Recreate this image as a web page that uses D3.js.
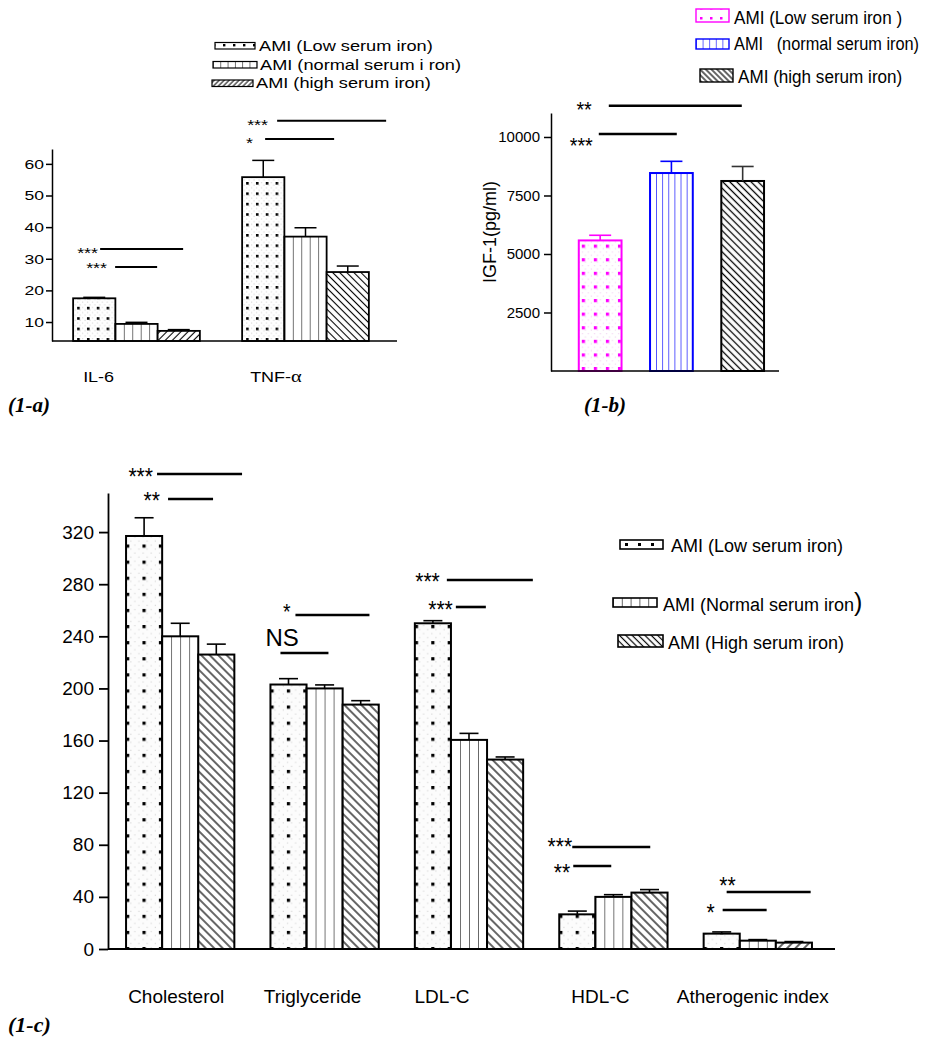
<!DOCTYPE html>
<html>
<head>
<meta charset="utf-8">
<script src="https://cdnjs.cloudflare.com/ajax/libs/d3/7.8.5/d3.min.js"></script>
<style>
  html, body { margin: 0; padding: 0; background: #fff; }
  svg { display: block; }
</style>
</head>
<body>
<svg id="fig" width="926" height="1042"></svg>
<script>
// ---------------- data ----------------
// (1-a) inflammatory markers
const markersA = ["IL-6", "TNF-α"];
const seriesA = ["AMI (Low serum iron)", "AMI (normal serum i ron)", "AMI (high serum iron)"];
const lowA = [17.5, 55.8];
const lowA_se = [0.3, 5.3];
const normalA = [9.4, 37.0];
const normalA_se = [0.5, 2.8];
const highA = [7.2, 25.8];
const highA_se = [0.4, 1.9];
const ticksA = [10, 20, 30, 40, 50, 60];

// (1-b) IGF-1
const seriesB = ["AMI (Low serum iron )", "AMI   (normal serum iron)", "AMI (high serum iron)"];
const igf = [5580, 8460, 8120];
const igf_se = [220, 500, 620];
const ticksB = [2500, 5000, 7500, 10000];

// (1-c) lipid profile
const lipids = ["Cholesterol", "Triglyceride", "LDL-C", "HDL-C", "Atherogenic index"];
const seriesC = ["AMI (Low serum iron)", "AMI (Normal serum iron", "AMI (High serum iron)"];
const lowC = [317, 203, 250, 26.6, 11.8];
const lowC_se = [14, 4.5, 2, 2.5, 1.3];
const normalC = [240, 200, 160.5, 40, 6.4];
const normalC_se = [10, 2.7, 5, 1.7, 0.8];
const highC = [226, 187.6, 145.4, 43.3, 4.9];
const highC_se = [8, 3, 2, 2.3, 0.8];
const ticksC = [0, 40, 80, 120, 160, 200, 240, 280, 320];

// significance brackets: label, level (axis units), offsets from group start
const sigA = [
  { group: "IL-6", label: "***", level: 33.1, from: 27, to: 110, textEnd: 25, dy: 0 },
  { group: "IL-6", label: "***", level: 27.4, from: 42, to: 84, textEnd: 34, dy: -3 },
  { group: "TNF-α", label: "***", level: 73.6, from: 35, to: 144, textEnd: 26, dy: 0 },
  { group: "TNF-α", label: "*", level: 67.9, from: 23, to: 92, textEnd: 11, dy: 0 }
];
const sigB = [
  { label: "**", level: 11338, from: 30, to: 163, textEnd: 13, dy: -1 },
  { label: "***", level: 10128, from: 20, to: 98, textEnd: 14, dy: 6 }
];
const sigC = [
  { group: "Cholesterol", label: "***", level: 364.6, from: 31, to: 116, textEnd: 27, dy: -3 },
  { group: "Cholesterol", label: "**", level: 345.4, from: 42, to: 87, textEnd: 34, dy: -4 },
  { group: "Triglyceride", label: "*", level: 256.4, from: 25, to: 99, textEnd: 20, dy: -9, fs: 22 },
  { group: "Triglyceride", label: "NS", level: 227.2, from: 10, to: 58, textStart: -5, dy: -7 },
  { group: "LDL-C", label: "***", level: 283.2, from: 32, to: 118, textEnd: 25, dy: -4 },
  { group: "LDL-C", label: "***", level: 262.5, from: 41, to: 71, textEnd: 38, dy: -3 },
  { group: "HDL-C", label: "***", level: 78.3, from: 13, to: 91, textEnd: 13, dy: -6 },
  { group: "HDL-C", label: "**", level: 63.7, from: 14, to: 52, textEnd: 11, dy: 1 },
  { group: "Atherogenic index", label: "**", level: 43.7, from: 23, to: 107, textEnd: 32, dy: -12 },
  { group: "Atherogenic index", label: "*", level: 29.9, from: 19, to: 63, textEnd: 11, dy: -3 }
];
const labelShiftC = [-4, -12, -27, -13, -5];

// ---------------- helpers ----------------
const SANS = '"Liberation Sans", Arial, Helvetica, sans-serif';
const SERIF = '"Liberation Serif", "Times New Roman", serif';
const svg = d3.select("#fig");
svg.append("rect").attr("width", 926).attr("height", 1042).attr("fill", "#fff");
const defs = svg.append("defs");
let pid = 0;

function dotsPattern(x0, y0, w, h, size, color, bg, faint) {
  const id = "pat" + (pid++);
  const p = defs.append("pattern").attr("id", id).attr("patternUnits", "userSpaceOnUse")
    .attr("x", x0).attr("y", y0).attr("width", w).attr("height", h);
  p.append("rect").attr("width", w).attr("height", h).attr("fill", bg);
  if (faint) {
    [[w / 2, 0], [0, h / 2], [w / 2, h / 2], [w / 4, h / 4], [3 * w / 4, 3 * h / 4], [w / 4, 3 * h / 4], [3 * w / 4, h / 4]]
      .forEach(([a, b]) => p.append("rect").attr("x", a).attr("y", b).attr("width", 1.2).attr("height", 1.2).attr("fill", faint));
  }
  p.append("rect").attr("x", 0).attr("y", 0).attr("width", size).attr("height", size).attr("fill", color);
  return `url(#${id})`;
}
function vlinePattern(x0, w, color, sw) {
  const id = "pat" + (pid++);
  const p = defs.append("pattern").attr("id", id).attr("patternUnits", "userSpaceOnUse")
    .attr("x", x0).attr("y", 0).attr("width", w).attr("height", 10);
  p.append("rect").attr("width", w).attr("height", 10).attr("fill", "#fff");
  p.append("line").attr("x1", 0).attr("x2", 0).attr("y1", 0).attr("y2", 10)
    .attr("stroke", color).attr("stroke-width", sw);
  return `url(#${id})`;
}
function diagPattern(s, color, sw, forward) {
  const id = "pat" + (pid++);
  const p = defs.append("pattern").attr("id", id).attr("patternUnits", "userSpaceOnUse")
    .attr("width", s).attr("height", s)
    .attr("patternTransform", `rotate(${forward ? 45 : -45})`);
  p.append("rect").attr("width", s).attr("height", s).attr("fill", "#fff");
  p.append("line").attr("x1", s / 2).attr("x2", s / 2).attr("y1", 0).attr("y2", s)
    .attr("stroke", color).attr("stroke-width", sw);
  return `url(#${id})`;
}
function addText(g, x, y, str, o) {
  const t = g.append("text")
    .attr("transform", `translate(${x},${y}) scale(${o.sx || 1},1)`)
    .attr("font-size", o.fs).attr("font-family", o.family || SANS)
    .attr("text-anchor", o.anchor || "start").attr("fill", o.fill || "#000")
    .style("white-space", "pre")
    .text(str);
  if (o.weight) t.attr("font-weight", o.weight);
  if (o.italic) t.attr("font-style", "italic");
  return t;
}
function styleAxis(g, fs, sw, sx) {
  g.selectAll("path.domain").attr("stroke", "#000").attr("stroke-width", sw);
  g.selectAll(".tick line").attr("stroke", "#000").attr("stroke-width", sw);
  g.selectAll(".tick text").attr("fill", "#000").attr("font-size", fs).attr("font-family", SANS);
  if (sx) {
    g.selectAll(".tick text").each(function () {
      const t = d3.select(this);
      const x = +t.attr("x");
      t.attr("x", 0).attr("transform", `translate(${x},0) scale(${sx},1)`);
    });
  }
}
function drawBars(g, rows, cfg) {
  g.selectAll(null).data(rows).join("rect")
    .attr("x", d => d.x).attr("width", d => d.w)
    .attr("y", d => cfg.y(d.v)).attr("height", d => cfg.base - cfg.y(d.v))
    .attr("fill", d => d.fill).attr("stroke", d => d.stroke).attr("stroke-width", cfg.sw);
  // upper error bars with caps
  g.selectAll(null).data(rows).join("line")
    .attr("x1", d => d.x + d.w / 2).attr("x2", d => d.x + d.w / 2)
    .attr("y1", d => cfg.y(d.v)).attr("y2", d => cfg.y(d.v + d.se))
    .attr("stroke", d => d.errColor || "#000").attr("stroke-width", cfg.esw);
  g.selectAll(null).data(rows).join("line")
    .attr("x1", d => d.x + d.w / 2 - cfg.cap / 2).attr("x2", d => d.x + d.w / 2 + cfg.cap / 2)
    .attr("y1", d => cfg.y(d.v + d.se)).attr("y2", d => cfg.y(d.v + d.se))
    .attr("stroke", d => d.errColor || "#000").attr("stroke-width", cfg.esw);
}
function drawSig(g, list, startOf, y, o) {
  list.forEach(s => {
    const x0 = startOf(s), ly = y(s.level);
    g.append("line").attr("x1", x0 + s.from).attr("x2", x0 + s.to)
      .attr("y1", ly).attr("y2", ly).attr("stroke", "#000").attr("stroke-width", o.lw);
    if (s.label === "NS") {
      addText(g, x0 + s.textStart, ly + s.dy, s.label, { fs: o.nsFs });
    } else {
      const fs = s.fs || o.fs;
      addText(g, x0 + s.textEnd, ly + s.dy + 0.58 * fs, s.label, { fs, anchor: "end", sx: o.sx });
    }
  });
}

// ---------------- (1-a) IL-6 / TNF-α ----------------
const gA = svg.append("g");
const yA = d3.scaleLinear().domain([4, 64.7]).range([341, 149]);
const xA = d3.scaleBand().domain(markersA).range([52, 390]).paddingInner(0.25).paddingOuter(0.125);
const xAi = d3.scaleBand().domain([0, 1, 2]).range([0, xA.bandwidth()]);
const forwardHatch = new Set(["IL-6", "Atherogenic index"]);
{
  const vals = [lowA, normalA, highA], ses = [lowA_se, normalA_se, highA_se];
  const base = yA.range()[0];
  const rows = markersA.flatMap((m, gi) => vals.map((arr, si) => {
    const x = xA(m) + xAi(si), w = xAi.bandwidth();
    const fill = si === 0 ? dotsPattern(x + 4, base - 3, w / 4.3, 10.4, 2.6, "#000", "#fff", "#dcdcdc")
      : si === 1 ? vlinePattern(x, w / 5, "#000", 1.1)
      : diagPattern(5, "#000", 1.1, forwardHatch.has(m));
    return { x, w, v: arr[gi], se: ses[si][gi], fill, stroke: "#000" };
  }));
  drawBars(gA, rows, { y: yA, base, sw: 1.8, esw: 1.5, cap: 22 });

  const ax = gA.append("g").attr("transform", "translate(52,0)")
    .call(d3.axisLeft(yA).tickValues(ticksA).tickSize(6).tickSizeOuter(0).tickPadding(2));
  styleAxis(ax, 13.5, 1.5, 1.3);
  gA.append("line").attr("x1", 52).attr("x2", 397).attr("y1", base).attr("y2", base)
    .attr("stroke", "#000").attr("stroke-width", 1.6);

  // group labels
  addText(gA, xA("IL-6") + 10, 382, "IL-6", { fs: 15, sx: 1.2 });
  const tnf = addText(gA, xA("TNF-α") + 8, 382, "", { fs: 15, sx: 1.2 });
  tnf.append("tspan").text("TNF-");
  tnf.append("tspan").attr("font-family", SERIF).attr("font-size", 17).text("α");

  drawSig(gA, sigA, s => xA(s.group), yA, { lw: 2, fs: 15, sx: 1.2 });

  // legend
  const leg = [
    { x: 215, y: 42.5, w: 40, tx: 259, ty: 51 },
    { x: 213, y: 61.5, w: 44, tx: 260, ty: 70 },
    { x: 212, y: 80, w: 41, tx: 256, ty: 88 }
  ];
  leg.forEach((L, i) => {
    const fill = i === 0 ? dotsPattern(L.x + 8, L.y + 1.5, 10, 10, 2.4, "#000", "#fff")
      : i === 1 ? vlinePattern(L.x, 7.3, "#000", 1.1)
      : diagPattern(3.5, "#000", 1, true);
    gA.append("rect").attr("x", L.x).attr("y", L.y).attr("width", L.w).attr("height", 6.5)
      .attr("fill", fill).attr("stroke", "#000").attr("stroke-width", 1.2);
    addText(gA, L.tx, L.ty, seriesA[i], { fs: 14, sx: 1.3 });
  });
  addText(gA, 8, 412, "(1-a)", { fs: 21, family: SERIF, weight: "bold", italic: true });
}

// ---------------- (1-b) IGF-1 ----------------
const gB = svg.append("g");
const yB = d3.scaleLinear().domain([0, 11025]).range([371, 113]);
const xB = d3.scaleBand().domain(seriesB).range([551, 779]).paddingInner(0.4).paddingOuter(0.3).align(0.65);
const colorsB = ["#ff00ff", "#0000ff", "#000"];
{
  const base = yB.range()[0];
  const rows = seriesB.map((s, i) => {
    const x = xB(s), w = xB.bandwidth();
    const fill = i === 0 ? dotsPattern(x + 3, base - 4, w / 3.55, 13.6, 3.2, colorsB[0], "#fff", "#f4d8f4")
      : i === 1 ? vlinePattern(x, w / 7, colorsB[1], 1.3)
      : diagPattern(5, "#000", 1.3, false);
    return { x, w, v: igf[i], se: igf_se[i], fill, stroke: colorsB[i], errColor: i === 2 ? "#333" : colorsB[i] };
  });
  drawBars(gB, rows, { y: yB, base, sw: 2, esw: 1.6, cap: 22 });

  const ax = gB.append("g").attr("transform", "translate(551,0)")
    .call(d3.axisLeft(yB).tickValues(ticksB).tickFormat(d3.format("d"))
      .tickSize(7).tickSizeOuter(0).tickPadding(4));
  styleAxis(ax, 15, 1.5);
  gB.append("line").attr("x1", 551).attr("x2", 779).attr("y1", base).attr("y2", base)
    .attr("stroke", "#000").attr("stroke-width", 1.6);
  gB.append("text").attr("transform", "translate(496,232) rotate(-90)")
    .attr("text-anchor", "middle").attr("font-size", 18).attr("font-family", SANS).text("IGF-1(pg/ml)");

  drawSig(gB, sigB, () => xB(seriesB[0]), yB, { lw: 2.5, fs: 22, sx: 0.9 });

  const leg = [
    { x: 696, y: 9, w: 33, h: 13, tx: 734, ty: 24, sx: 0.9 },
    { x: 696, y: 39, w: 33, h: 10, tx: 734, ty: 50, sx: 0.86 },
    { x: 700, y: 69, w: 33, h: 13, tx: 738, ty: 83, sx: 0.9 }
  ];
  leg.forEach((L, i) => {
    const fill = i === 0 ? dotsPattern(L.x + 4, L.y + 8, 10, 10, 2.5, colorsB[0], "#fff")
      : i === 1 ? vlinePattern(L.x, 6.6, colorsB[1], 1.2)
      : diagPattern(4, "#000", 1.2, false);
    gB.append("rect").attr("x", L.x).attr("y", L.y).attr("width", L.w).attr("height", L.h)
      .attr("fill", fill).attr("stroke", colorsB[i]).attr("stroke-width", 1.4);
    addText(gB, L.tx, L.ty, seriesB[i], { fs: 19, sx: L.sx });
  });
  addText(gB, 584, 412, "(1-b)", { fs: 21, family: SERIF, weight: "bold", italic: true });
}

// ---------------- (1-c) lipid profile ----------------
const gC = svg.append("g");
const yC = d3.scaleLinear().domain([0, 350]).range([949, 493]);
const xC = d3.scaleBand().domain(lipids).range([108, 830]).paddingInner(0.25).paddingOuter(0.125);
const xCi = d3.scaleBand().domain([0, 1, 2]).range([0, xC.bandwidth()]);
{
  const vals = [lowC, normalC, highC], ses = [lowC_se, normalC_se, highC_se];
  const base = yC.range()[0];
  const rows = lipids.flatMap((c, gi) => vals.map((arr, si) => {
    const x = xC(c) + xCi(si), w = xCi.bandwidth();
    const fill = si === 0 ? dotsPattern(x, base - 2, w / 2.2, 16.1, 3.2, "#000", "#fcfcfc", "#d9d9d9")
      : si === 1 ? vlinePattern(x, w / 4, "#000", 1.1)
      : diagPattern(6, "#000", 1.2, forwardHatch.has(c));
    return { x, w, v: arr[gi], se: ses[si][gi], fill, stroke: "#000" };
  }));
  drawBars(gC, rows, { y: yC, base, sw: 2, esw: 1.6, cap: 19 });

  const ax = gC.append("g").attr("transform", "translate(108,0)")
    .call(d3.axisLeft(yC).tickValues(ticksC).tickSize(9).tickSizeOuter(0).tickPadding(5));
  styleAxis(ax, 19, 1.8);
  gC.append("line").attr("x1", 108).attr("x2", 835).attr("y1", base).attr("y2", base)
    .attr("stroke", "#000").attr("stroke-width", 2);

  lipids.forEach((c, i) => {
    addText(gC, xC(c) + xC.bandwidth() / 2 + labelShiftC[i], 1003, c, { fs: 19, anchor: "middle" });
  });

  drawSig(gC, sigC, s => xC(s.group), yC, { lw: 2.6, fs: 24, sx: 0.88, nsFs: 24 });

  const leg = [
    { x: 620, y: 540, w: 43, h: 9, tx: 671, ty: 552 },
    { x: 613, y: 598, w: 44, h: 9, tx: 663, ty: 611 },
    { x: 618, y: 635, w: 45, h: 12, tx: 668, ty: 649 }
  ];
  leg.forEach((L, i) => {
    const fill = i === 0 ? dotsPattern(L.x + 5, L.y + 3, 13, 13, 3, "#000", "#fff")
      : i === 1 ? vlinePattern(L.x, 8.8, "#000", 1.2)
      : diagPattern(4.5, "#000", 1.2, false);
    gC.append("rect").attr("x", L.x).attr("y", L.y).attr("width", L.w).attr("height", L.h)
      .attr("fill", fill).attr("stroke", "#000").attr("stroke-width", 1.6);
    const t = addText(gC, L.tx, L.ty, seriesC[i], { fs: 18 });
    if (i === 1) t.append("tspan").attr("font-size", 25).text(")");
  });
  addText(gC, 8, 1032, "(1-c)", { fs: 22, family: SERIF, weight: "bold", italic: true });
}
</script>
</body>
</html>
